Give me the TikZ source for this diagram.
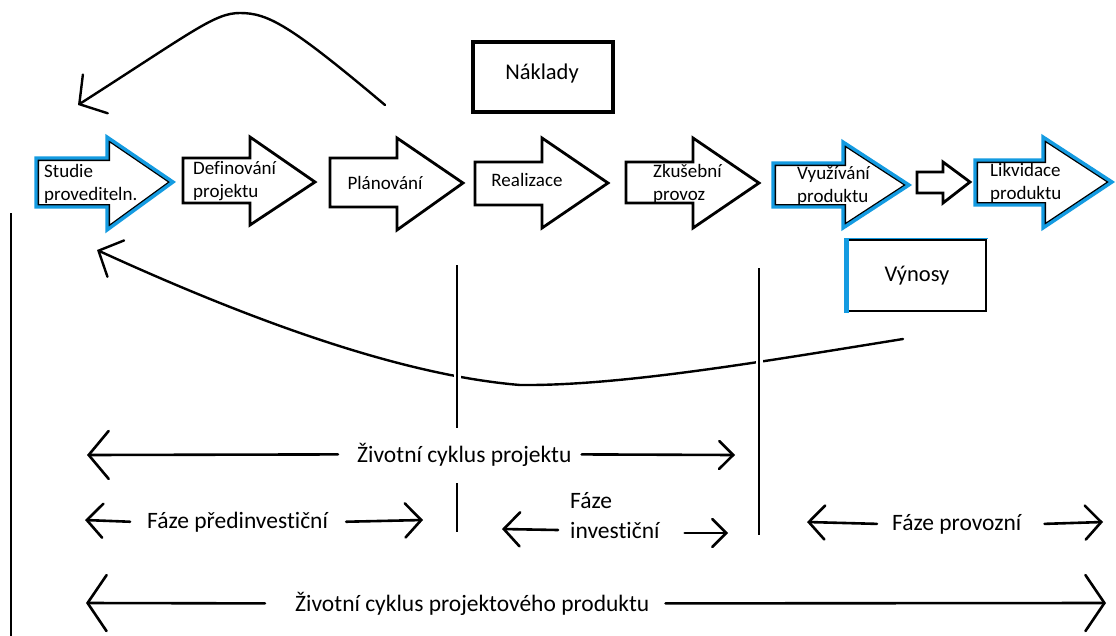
\documentclass[tikz,border=0pt]{standalone}
\usepackage{fontspec}
\setmainfont{Carlito}[Ligatures=NoCommon]
\usetikzlibrary{arrows.meta}
\definecolor{edgeblue}{RGB}{20,155,225}

% block arrow: left x, body top, body bottom, head x, head top, head bottom, tip x, tip y
\newcommand\plainblock[8]{%
  \draw[blockline] (#1,#2) -- (#4,#2) -- (#4,#5) -- (#7,#8) -- (#4,#6) -- (#4,#3) -- (#1,#3) -- cycle;}
\newcommand\blueblock[8]{%
  \begin{scope}
    \clip (#1,#2) -- (#4,#2) -- (#4,#5) -- (#7,#8) -- (#4,#6) -- (#4,#3) -- (#1,#3) -- cycle;
    \draw[black, line width=6pt] (#1,#2) -- (#4,#2) -- (#4,#5) -- (#7,#8) -- (#4,#6) -- (#4,#3) -- (#1,#3) -- cycle;
  \end{scope}
  \draw[blueedge] (#1,#2) -- (#4,#2) -- (#4,#5) -- (#7,#8) -- (#4,#6) -- (#4,#3) -- (#1,#3) -- cycle;}

\begin{document}
\begin{tikzpicture}[x=1pt, y=-1pt,
    blockline/.style={draw=black, line width=2.8pt, line join=miter},
    blueedge/.style={draw=edgeblue, line width=3.4pt, line join=miter},
    steplabel/.style={inner sep=0pt, align=left, font=\fontsize{19}{23}\selectfont},
    rowlabel/.style={inner sep=0pt, font=\fontsize{23.5}{26}\selectfont},
    boxlabel/.style={inner sep=0pt, font=\fontsize{22.5}{26}\selectfont},
    divider/.style={line width=2.4pt},
    flow/.style={line width=2.4pt, line cap=round},
    span/.style={line width=2.6pt, line cap=round},
    bigbarb/.style={-{Straight Barb[length=20pt, width=48pt, line cap=round]}},
    midbarb/.style={-{Straight Barb[length=16pt, width=34pt, line cap=round]}},
    smallbarb/.style={-{Straight Barb[length=14pt, width=28pt, line cap=round]}},
    hugebarb/.style={-{Straight Barb[length=19pt, width=56pt, line cap=round]}}]

\useasboundingbox (0,0) rectangle (1116,635);

% ---- phases as block arrows ----
\blueblock{36}{158}{207}{107}{137}{230}{173}{182}
\plainblock{183}{158}{203}{250}{137}{225}{315}{182}
\plainblock{330}{158}{207}{397}{138}{230}{463}{183}
\plainblock{475}{162}{205}{542}{138}{228}{608}{183}
\plainblock{626}{162}{203}{693}{138}{228}{759}{183}
\blueblock{773}{163}{207}{843}{142}{228}{909}{185}
\plainblock{917}{172}{193}{943}{162}{203}{970}{182}
\blueblock{975}{160}{205}{1043}{137}{228}{1112}{182}

\node[steplabel, anchor=west] (studie) at (44,184) {Studie\\provediteln.};
\node[steplabel, anchor=west] (defin) at (193,181) {Definování\\projektu};
\node[steplabel] (plan) at (385,183) {Plánování};
\node[steplabel] (real) at (527,180) {Realizace};
\node[steplabel, anchor=west] (zkus) at (653,184) {Zkušební\\provoz};
\node[steplabel, anchor=west] (vyuz) at (797,186) {Využívání\\produktu};
\node[steplabel, anchor=west] (likv) at (990,183) {Likvidace\\produktu};

% ---- costs and revenues ----
\node[boxlabel] (naklady) at (542,73) {Náklady};
\draw[line width=3.6pt] (473,42) rectangle (613,112);

\node[boxlabel] (vynosy) at (917,276) {Výnosy};
\draw[line width=2.6pt] (847,240) rectangle (986,311);
\draw[edgeblue, line width=5pt] (846,238) -- (846,313);
\draw[edgeblue, line width=1.6pt] (846,238.5) -- (988,238.5);

% ---- cost feedback curve ----
\coordinate (costfrom) at (385,105);
\coordinate (costpeak) at (240,13);
\coordinate (costto) at (78,105);
\draw[flow, {Straight Barb[length=19pt, width=46pt, line cap=round]}-]
  (costto) .. controls (195,30) and (215,13) .. (costpeak)
  .. controls (268,13) and (290,25) .. (costfrom);

% ---- dividers ----
\coordinate (d1top) at (457,265);
\coordinate (d1mid) at (457,428);
\coordinate (d1low) at (457,483);
\coordinate (d1bot) at (457,532);
\coordinate (d2top) at (759,268);
\coordinate (d2bot) at (759,535);
\coordinate (axtop) at (11,213);
\coordinate (axbot) at (11,636);

% ---- revenue feedback curve ----
\coordinate (revfrom) at (903,339);
\coordinate (revlow) at (520,385);
\coordinate (revto) at (97,250);
\draw[flow, {Straight Barb[length=19pt, width=40pt, line cap=round]}-]
  (revto) .. controls (250,320) and (400,375) .. (revlow)
  .. controls (620,386) and (760,362) .. (revfrom);

\draw[divider, preaction={draw=white, line width=7pt}] (d1top) -- (d1mid);
\draw[divider] (d1low) -- (d1bot);
\draw[divider, preaction={draw=white, line width=7pt}] (d2top) -- (d2bot);
\draw[divider] (axtop) -- (axbot);

% ---- life-cycle spans ----
\node[rowlabel, anchor=base west] (projcycle) at (357,462) {Životní cyklus projektu};
\coordinate (pcL) at (87,455);
\coordinate (pcR) at (735,455);
\draw[span, bigbarb] ([xshift=-19pt]projcycle.west) -- (pcL);
\draw[span, smallbarb] ([xshift=10pt]projcycle.east) -- (pcR);

\node[rowlabel, anchor=base west] (preinv) at (147,528) {Fáze předinvestiční};
\coordinate (piL) at (85,520);
\coordinate (piR) at (423,520);
\draw[span, midbarb] ([xshift=-17pt]preinv.west) -- (piL);
\draw[span, midbarb] ([xshift=18pt]preinv.east) -- (piR);

\node[rowlabel, anchor=base west] (invA) at (570,508) {Fáze};
\node[rowlabel, anchor=base west] (invB) at (570,538) {investiční};
\coordinate (ivL) at (502,529);
\coordinate (ivR) at (728,533);
\draw[span, midbarb] ([xshift=-12pt]invB.west) -- (ivL);
\draw[span, smallbarb] ([xshift=25pt]invB.east |- ivR) -- (ivR);

\node[rowlabel, anchor=base west] (oper) at (892,530) {Fáze provozní};
\coordinate (opL) at (807,522);
\coordinate (opR) at (1103,522);
\draw[span, midbarb] ([xshift=-15pt]oper.west) -- (opL);
\draw[span, midbarb] ([xshift=23pt]oper.east) -- (opR);

\node[rowlabel, anchor=base west] (prodcycle) at (295,611) {Životní cyklus projektového produktu};
\coordinate (prL) at (86,603);
\coordinate (prR) at (1106,603);
\draw[span, hugebarb] ([xshift=-30pt]prodcycle.west) -- (prL);
\draw[span, hugebarb] ([xshift=16pt]prodcycle.east) -- (prR);

\end{tikzpicture}
\end{document}
